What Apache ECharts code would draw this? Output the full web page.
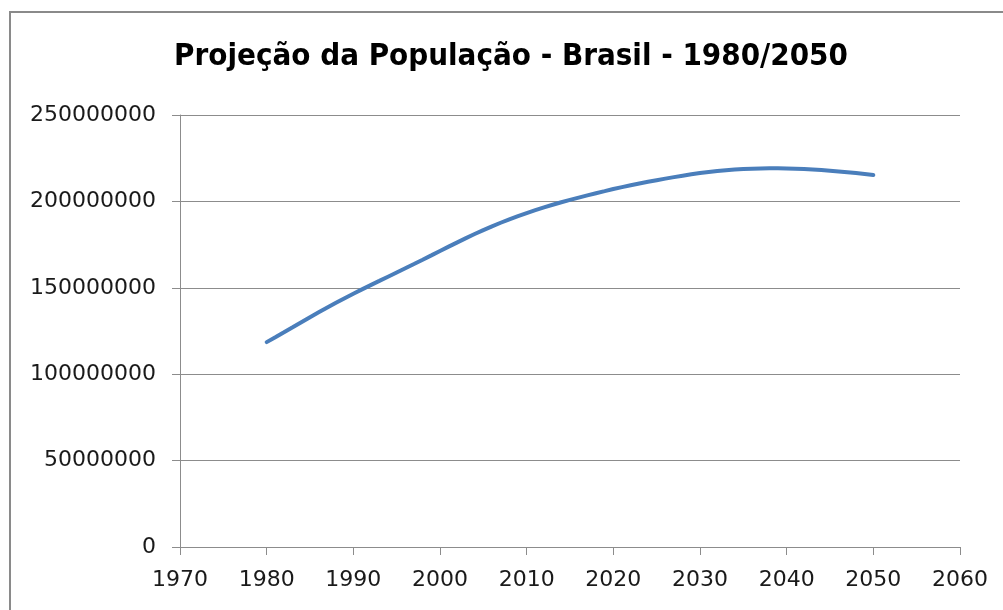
<!DOCTYPE html>
<html><head><meta charset="utf-8">
<script src="https://cdn.jsdelivr.net/npm/echarts@6/dist/echarts.min.js"></script>
<style>html,body{margin:0;padding:0;background:#fff}#c{width:1003px;height:610px}</style>
</head><body><div id="c"></div>
<script>
const titleText = 'Projeção da População - Brasil - 1980/2050';
const years = [];
for (let y = 1980; y <= 2050; y++) years.push(y);
const population = [
118562549,121381305,124250840,127140354,130082524,132999282,135814249,138585894,141312997,143997246,
146592579,149094266,151546843,153985576,156430949,158874963,161323169,163779827,166252088,168753552,
171279882,173808010,176303919,178741412,181105601,183383216,185564212,187641714,189612814,191480630,
193252604,194932685,196526293,198043320,199492433,200881685,202220000,203510000,204740000,205920000,
207143243,208240000,209310000,210340000,211330000,212280000,213190000,214060000,214890000,215680000,
216410030,217030000,217570000,218030000,218410000,218710000,218930000,219070000,219140000,219160000,
219080000,218940000,218740000,218480000,218160000,217790000,217370000,216900000,216380000,215850000,
215287463
];
const xMin = 1970, xMax = 2060, xStep = 10;
const yMin = 0, yMax = 250000000, yStep = 50000000;

const chart = echarts.init(document.getElementById('c'));
chart.setOption({
  animation: false,
  graphic: [
    { type: 'rect', shape: { x: 10, y: 12, width: 1100, height: 700 }, style: { fill: 'none', stroke: '#8a8a8a', lineWidth: 2 } },
    { type: 'text', x: 511, y: 57, style: { text: titleText, x: 0, y: 0, textAlign: 'center', textVerticalAlign: 'middle',
      font: 'bold 31px "DejaVu Sans Condensed", "DejaVu Sans", sans-serif', fill: '#000' } }
  ],
  grid: { left: 180, right: 43, top: 115, bottom: 63 },
  xAxis: {
    type: 'value', min: xMin, max: xMax, interval: xStep,
    axisLine: { show: true, lineStyle: { color: '#8c8c8c', width: 1 } },
    axisTick: { show: true, length: 8, lineStyle: { color: '#8c8c8c' } },
    axisLabel: { margin: 22, color: '#1a1a1a', fontSize: 22, fontFamily: 'DejaVu Sans', formatter: v => String(v) },
    splitLine: { show: false }
  },
  yAxis: {
    type: 'value', min: yMin, max: yMax, interval: yStep,
    axisLine: { show: true, onZero: false, lineStyle: { color: '#8c8c8c', width: 1 } },
    axisTick: { show: true, length: 8, lineStyle: { color: '#8c8c8c' } },
    axisLabel: { margin: 24, color: '#1a1a1a', fontSize: 22, fontFamily: 'DejaVu Sans', formatter: v => String(v) },
    splitLine: { show: true, lineStyle: { color: '#8c8c8c', width: 1 } }
  },
  series: [{
    type: 'line', data: years.map((y, i) => [y, population[i]]),
    showSymbol: false, symbol: 'none',
    lineStyle: { color: '#4a7ebb', width: 4, cap: 'round' }
  }]
});
</script></body></html>
